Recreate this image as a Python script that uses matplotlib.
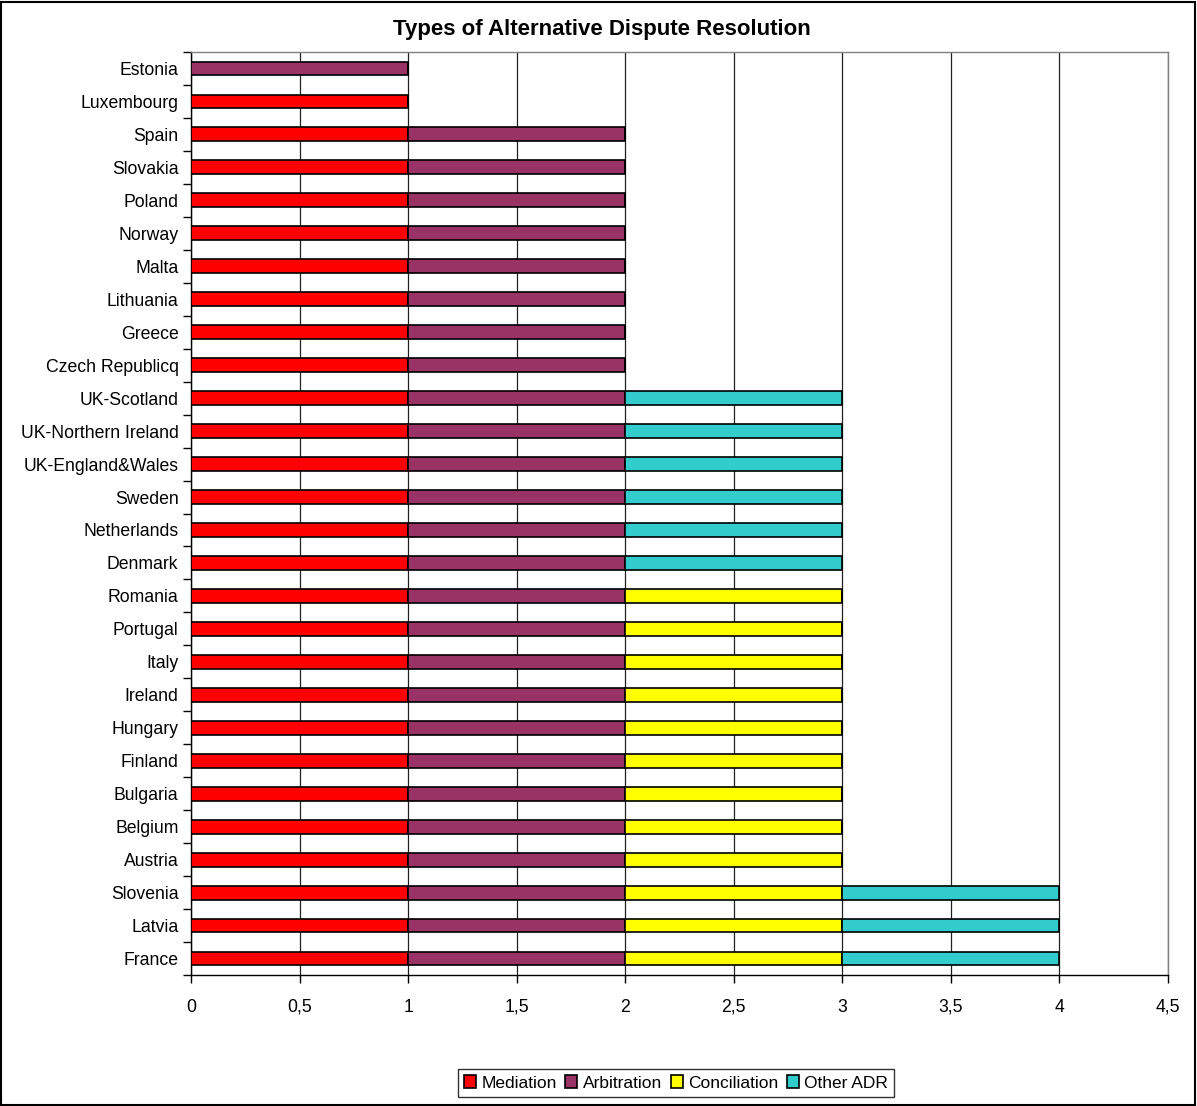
import matplotlib
matplotlib.use("Agg")
import matplotlib.pyplot as plt
from matplotlib.patches import Rectangle
import numpy as np

plt.rcParams['font.family'] = ['Liberation Sans', 'DejaVu Sans']

countries = ["France", "Latvia", "Slovenia", "Austria", "Belgium", "Bulgaria", "Finland",
             "Hungary", "Ireland", "Italy", "Portugal", "Romania", "Denmark", "Netherlands",
             "Sweden", "UK-England&Wales", "UK-Northern Ireland", "UK-Scotland",
             "Czech Republicq", "Greece", "Lithuania", "Malta", "Norway", "Poland",
             "Slovakia", "Spain", "Luxembourg", "Estonia"]
mediation    = [1]*27 + [0]
arbitration  = [1]*26 + [0, 1]
conciliation = [1]*12 + [0]*16
other_adr    = [1]*3 + [0]*9 + [1]*6 + [0]*10

series_names = ["Mediation", "Arbitration", "Conciliation", "Other ADR"]
series_colors = ["#FF0000", "#993366", "#FFFF00", "#33CCCC"]
xticks = [0, 0.5, 1, 1.5, 2, 2.5, 3, 3.5, 4, 4.5]
xtick_labels = ["0", "0,5", "1", "1,5", "2", "2,5", "3", "3,5", "4", "4,5"]

fig = plt.figure(figsize=(11.97, 11.06), dpi=100)
ax = fig.add_axes([191/1197, 1-975/1106, (1168-191)/1197, (975-52)/1106])

y = np.arange(len(countries))
left = np.zeros(len(countries))
for vals, name, col in zip([mediation, arbitration, conciliation, other_adr], series_names, series_colors):
    v = np.array(vals, dtype=float)
    ax.barh(y, v, left=left, height=0.42, color=col, edgecolor="black", linewidth=1.2,
            label=name, zorder=3)
    left += v

ax.set_xlim(0, 4.5)
ax.set_ylim(-0.5, len(countries) - 0.5)
ax.set_xticks(xticks)
ax.set_xticklabels(xtick_labels, fontsize=12.7)
ax.set_yticks(y)
ax.set_yticklabels(countries, fontsize=12.7)
ax.set_yticks(np.arange(len(countries) + 1) - 0.5, minor=True)
ax.tick_params(axis='y', which='minor', length=6, width=1, direction='out')
ax.tick_params(axis='y', which='major', length=0, pad=9)
ax.tick_params(axis='x', length=6, width=1, direction='out', pad=11)
ax.xaxis.grid(True, color="#202020", linewidth=0.9, zorder=0)
ax.set_axisbelow(True)
for s in ['top', 'right']:
    ax.spines[s].set_color('#808080')
    ax.spines[s].set_linewidth(1)
for s in ['left', 'bottom']:
    ax.spines[s].set_color('black')
    ax.spines[s].set_linewidth(1)

fig.text(602/1197, 1-29/1106, "Types of Alternative Dispute Resolution", ha='center', va='center',
         fontsize=16, fontweight='bold')

leg = fig.legend(loc='center', bbox_to_anchor=(676/1197, 1-1083/1106), ncol=4, fontsize=12.5,
                 frameon=True, fancybox=False, edgecolor='black', handlelength=0.7,
                 handleheight=0.7, handletextpad=0.3, columnspacing=0.5, borderpad=0.35)
leg.get_frame().set_linewidth(1)

fig.patches.append(Rectangle((1/1197, 1/1106), 1-3/1197, 1-3/1106, transform=fig.transFigure,
                             fill=False, edgecolor='black', linewidth=1.5))

fig.savefig("out.png", dpi=100)
